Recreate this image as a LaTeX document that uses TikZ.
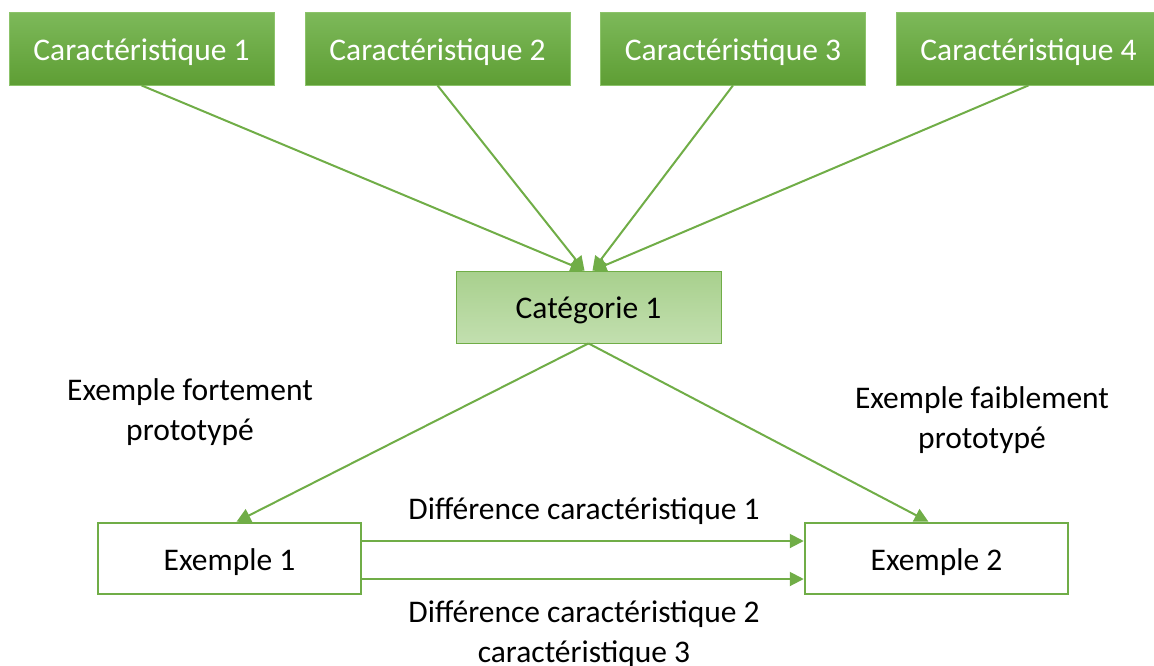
\documentclass[tikz,border=0pt]{standalone}
\usepackage{fontspec}
\setmainfont{Carlito}
\usetikzlibrary{arrows.meta,calc}
\definecolor{gA}{HTML}{70AD47}
\definecolor{gTop}{HTML}{7DB95A}
\definecolor{gBot}{HTML}{5E9E34}
\definecolor{gEdge}{HTML}{8CC36A}
\definecolor{cTop}{HTML}{A8D08D}
\definecolor{cBot}{HTML}{C2DFAF}
\begin{document}
\begin{tikzpicture}[x=1pt,y=-1pt,
  every node/.style={font=\fontsize{31.5}{40}\selectfont, inner sep=0pt},
  boxtext/.style={text height=30pt, text depth=6.6pt},
  featbox/.style={boxtext, draw=gEdge, line width=0.8pt, top color=gTop, bottom color=gBot, text=white, minimum width=265pt, minimum height=73pt},
  catbox/.style={boxtext, draw=gA, line width=0.8pt, top color=cTop, bottom color=cBot, text=black, minimum width=265pt, minimum height=72pt},
  exbox/.style={boxtext, draw=gA, line width=2.5pt, fill=white, text=black, minimum width=263pt, minimum height=71pt},
  link/.style={draw=gA, line width=2pt, -{Triangle[length=14pt,width=14pt]}},
  lbl/.style={align=center, text=black}
]
\useasboundingbox (0,0) rectangle (1154,665);
\node[featbox] (f1) at (141.5,48.5) {Caractéristique 1};
\node[featbox] (f2) at (437.5,48.5) {Caractéristique 2};
\node[featbox] (f3) at (733,48.5) {Caractéristique 3};
\node[featbox] (f4) at (1028.5,48.5) {Caractéristique 4};
\node[catbox] (cat) at (588.5,307) {Catégorie 1};
\node[exbox] (e1) at (229.5,558.5) {Exemple 1};
\node[exbox] (e2) at (936.5,558.5) {Exemple 2};
\coordinate (catL) at ($(cat.north)+(-4,0)$);
\coordinate (catR) at ($(cat.north)+(4,0)$);
\draw[link] (f1.south) -- (catL);
\draw[link] (f2.south) -- (catL);
\draw[link] (f3.south) -- (catR);
\draw[link] (f4.south) -- (catR);
\draw[link] (cat.south) -- ($(e1.north)+(7,0)$);
\draw[link] (cat.south) -- ($(e2.north)+(-8,0)$);
\draw[link] ($(e1.east)+(0,-17.5)$) -- ($(e2.west)+(0,-17.5)$);
\draw[link] ($(e1.east)+(0,20.5)$) -- ($(e2.west)+(0,20.5)$);
\node[lbl] (t1) at (190,412) {Exemple fortement\\prototypé};
\node[lbl] (t2) at (982,420) {Exemple faiblement\\prototypé};
\node[lbl] (d1) at (584,511) {Différence caractéristique 1};
\node[lbl] (d2) at (584,634) {Différence caractéristique 2\\caractéristique 3};
\end{tikzpicture}
\end{document}
